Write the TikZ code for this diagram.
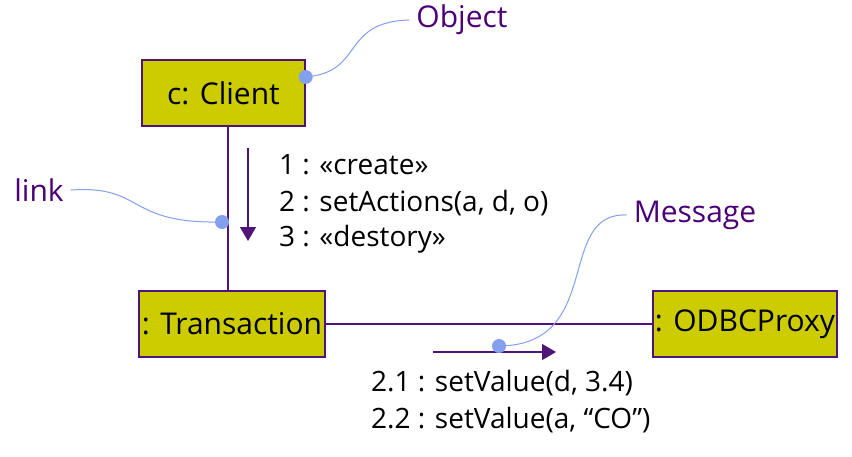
\documentclass[tikz,border=0pt]{standalone}
\usepackage{fontspec}
\setmainfont{Open Sans}
\usetikzlibrary{arrows.meta}
\definecolor{boxfill}{RGB}{204,204,0}
\definecolor{linkcol}{RGB}{80,20,120}
\definecolor{notecol}{RGB}{130,160,235}
\definecolor{textcol}{RGB}{75,0,120}
\tikzset{
  obj/.style={draw=linkcol,fill=boxfill,line width=0.7pt,minimum height=33pt,inner sep=0pt,
    font=\fontsize{15}{17}\selectfont},
  link/.style={draw=linkcol,line width=0.7pt},
  msg/.style={draw=linkcol,line width=0.7pt,-{Triangle[length=7pt,width=8pt]}},
  note/.style={draw=notecol,line width=0.5pt},
  notedot/.style={fill=notecol},
  lbl/.style={text=textcol,font=\fontsize{15}{17}\selectfont}
}
\begin{document}
\begin{tikzpicture}[x=0.5pt,y=-0.5pt,font=\fontsize{14}{16}\selectfont]
  \useasboundingbox (0,0) rectangle (852,456);
  % objects
  \node[obj,minimum width=81.5pt] (client) at (223.5,93) {c: Client};
  \node[obj,minimum width=93pt] (trans) at (232,324) {: Transaction};
  \node[obj,minimum width=92pt] (proxy) at (745,324) {: ODBCProxy};
  % links
  \draw[link] ([xshift=2.25pt]client.south) coordinate (l1) -- (l1 |- trans.north);
  \draw[link] (trans.east) -- (proxy.west);
  % messages
  \coordinate (d1) at (248,148); \coordinate (d2) at (248,241);
  \draw[msg] (d1) -- (d2);
  \node[anchor=west] (m1) at (272,165) {1 : «create»};
  \node[anchor=west] (m2) at (272,203) {2 : setActions(a, d, o)};
  \node[anchor=west] (m3) at (272,239) {3 : «destory»};
  \coordinate (r1) at (433,352); \coordinate (r2) at (556,352);
  \draw[msg] (r1) -- (r2);
  \node[anchor=west] (m4) at (364,383) {2.1 : setValue(d, 3.4)};
  \node[anchor=west] (m5) at (364,420) {2.2 : setValue(a, “CO”)};
  % notes
  \node[lbl] (objlbl) at (462,20) {Object};
  \node[lbl] (linklbl) at (39,190) {link};
  \node[lbl] (msglbl) at (695,215) {Message};
  \coordinate (odot) at ([yshift=8pt]client.east);
  \coordinate (ldot) at ([xshift=-3pt]l1 |- 0,222);
  \coordinate (mdot) at (499,346);
  \draw[note] (odot) .. controls (365,72) and (340,22) .. (objlbl.west);
  \draw[note] (linklbl.east) .. controls (145,185) and (125,224) .. (ldot);
  \draw[note] (mdot) .. controls (605,345) and (555,212) .. (msglbl.west);
  \fill[notedot] (odot) circle (3.5pt);
  \fill[notedot] (ldot) circle (3.5pt);
  \fill[notedot] (mdot) circle (3.5pt);
\end{tikzpicture}
\end{document}
